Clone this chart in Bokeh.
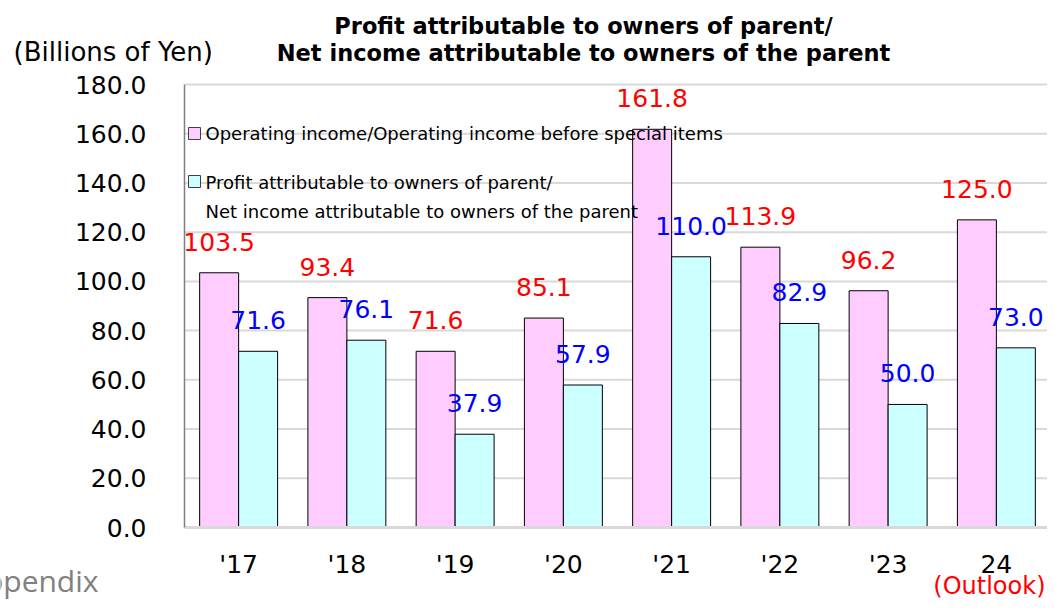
from bokeh.plotting import figure
from bokeh.models import (Range1d, FixedTicker, Label, BoxAnnotation, ColumnDataSource,
                          NumeralTickFormatter, LinearAxis)
from bokeh.embed import file_html
from bokeh.resources import INLINE

# ---- data ----
years = ["'17", "'18", "'19", "'20", "'21", "'22", "'23", "24"]
op_income = [103.5, 93.4, 71.6, 85.1, 161.8, 113.9, 96.2, 125.0]
net_income = [71.6, 76.1, 37.9, 57.9, 110.0, 82.9, 50.0, 73.0]
y_ticks = [0, 20, 40, 60, 80, 100, 120, 140, 160, 180]

title_lines = ["Profit attributable to owners of parent/",
               "Net income attributable to owners of the parent"]
unit_label = "(Billions of Yen)"
outlook_label = "(Outlook)"
footer_label = "Appendix"
legend_op = "Operating income/Operating income before special items"
legend_net = ["Profit attributable to owners of parent/",
              "Net income attributable to owners of the parent"]

# ---- layout (canvas pixels) ----
W, H = 1047, 600
PL, PR, PT, PB = 184, 1050, 84, 527   # plot-area edges
YMAX = 180
N = len(years)
FONT = "DejaVu Sans"
PINK = "#FFCCFF"
CYAN = "#CCFFFF"
GRID = "#D9D9D9"


def X(px):
    """canvas pixel x -> data x"""
    return (px - PL) / (PR - PL) * N


def Y(py):
    """canvas pixel y -> data y"""
    return (PB - py) / (PB - PT) * YMAX


p = figure(width=W, height=H, output_backend="svg", toolbar_location=None,
           x_axis_type=None, y_axis_type=None,
           x_range=Range1d(X(0), X(W)), y_range=Range1d(Y(H), Y(0)))
p.min_border = 0
p.min_border_left = p.min_border_right = p.min_border_top = p.min_border_bottom = 0
p.outline_line_color = None
p.background_fill_color = "white"
p.border_fill_color = "white"
p.grid.visible = False

centers = [i + 0.5 for i in range(N)]

# horizontal gridlines at the tick values, across the plot area
grid_vals = [t for t in y_ticks if t > 0]
p.segment(x0=[0] * len(grid_vals), x1=[N] * len(grid_vals), y0=grid_vals, y1=grid_vals,
          line_color=GRID, line_width=2)

bw = 0.36
src = ColumnDataSource(dict(
    xo=[c - bw / 2 for c in centers],
    xn=[c + bw / 2 for c in centers],
    op=op_income, net=net_income,
    op_t=["%.1f" % v for v in op_income],
    net_t=["%.1f" % v for v in net_income],
))

p.vbar(x="xo", top="op", width=bw, bottom=0, source=src,
       fill_color=PINK, line_color="black", line_width=1)
p.vbar(x="xn", top="net", width=bw, bottom=0, source=src,
       fill_color=CYAN, line_color="black", line_width=1)

p.text(x="xo", y="op", text="op_t", source=src, text_align="center",
       text_baseline="middle", y_offset=-31, text_color="#FF0000",
       text_font_size="25px", text_font={"value": FONT})
p.text(x="xn", y="net", text="net_t", source=src, text_align="center",
       text_baseline="middle", y_offset=-31, text_color="#0000FF",
       text_font_size="25px", text_font={"value": FONT})

# axes (fixed at the plot-area edges)
xax = LinearAxis(fixed_location=0, bounds=(0, N), ticker=FixedTicker(ticks=centers),
                 major_label_overrides={c: y for c, y in zip(centers, years)})
xax.major_label_text_font = FONT
xax.major_label_text_font_size = "25px"
xax.major_label_text_color = "black"
xax.major_label_standoff = 22
xax.major_tick_out = 0
xax.major_tick_in = 0
xax.major_tick_line_color = None
xax.minor_tick_line_color = None
xax.axis_line_color = GRID
xax.axis_line_width = 3
p.add_layout(xax, "below")

yax = LinearAxis(fixed_location=0, bounds=(0, YMAX), ticker=FixedTicker(ticks=y_ticks),
                 formatter=NumeralTickFormatter(format="0.0"))
yax.major_label_text_font = FONT
yax.major_label_text_font_size = "25px"
yax.major_label_text_color = "black"
yax.major_label_standoff = 38
yax.major_tick_out = 0
yax.major_tick_in = 0
yax.major_tick_line_color = None
yax.minor_tick_line_color = None
yax.axis_line_color = "#808080"
yax.axis_line_width = 1.5
p.add_layout(yax, "left")

# legend (manual, inside the plot area)
for (ry, col) in [(133, PINK), (181, CYAN)]:
    p.add_layout(BoxAnnotation(left=X(188), right=X(200), top=Y(ry - 6), bottom=Y(ry + 6),
                               fill_color=col, fill_alpha=1, line_color="#404040",
                               line_width=1, line_alpha=1))
for (ry, txt) in [(133, legend_op), (182, legend_net[0]), (211, legend_net[1])]:
    p.add_layout(Label(x=X(205), y=Y(ry), text=txt, text_align="left",
                       text_baseline="middle", text_font=FONT,
                       text_font_size="18px", text_color="black"))

# titles and side texts
for txt, cy in zip(title_lines, [25, 52.5]):
    p.add_layout(Label(x=X(583), y=Y(cy), text=txt, text_align="center",
                       text_baseline="middle", text_font=FONT, text_font_style="bold",
                       text_font_size="22.5px", text_color="black"))
p.add_layout(Label(x=X(13), y=Y(51), text=unit_label, text_align="left",
                   text_baseline="middle", text_font=FONT,
                   text_font_size="26px", text_color="black"))
p.add_layout(Label(x=X(1045), y=Y(585), text=outlook_label, text_align="right",
                   text_baseline="middle", text_font=FONT,
                   text_font_size="24px", text_color="#FF0000"))
p.add_layout(Label(x=X(98), y=Y(580), text=footer_label, text_align="right",
                   text_baseline="middle", text_font="Open Sans",
                   text_font_size="30px", text_color="#808080"))

open("out.html", "w").write(file_html(p, INLINE))
